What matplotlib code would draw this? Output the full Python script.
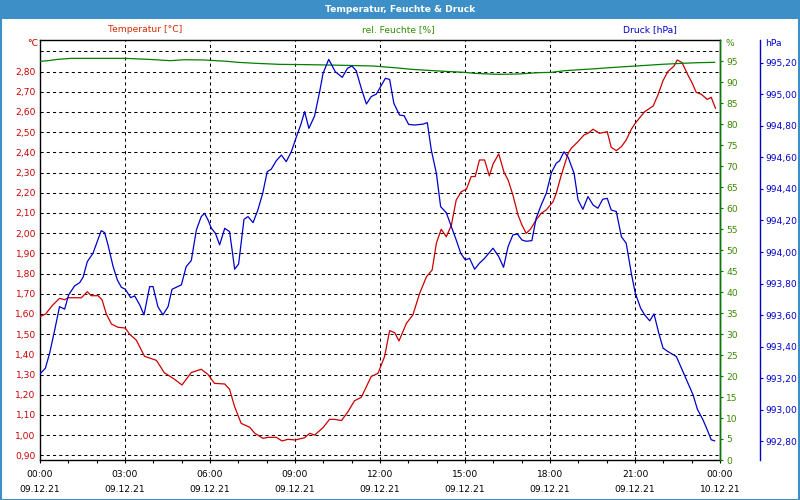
import matplotlib
matplotlib.use("Agg")
import matplotlib.pyplot as plt
from matplotlib.ticker import FixedLocator, FuncFormatter, MultipleLocator
from matplotlib.patches import Rectangle

# ---------------- data (hours since 09.12.21 00:00) ----------------
temp_hours = [0.0, 0.2, 0.45, 0.69, 0.87, 0.99, 1.46, 1.67, 1.81, 2.05, 2.19, 2.34, 2.52,
              2.75, 3.01, 3.16, 3.40, 3.69, 4.11, 4.38, 4.75, 5.01, 5.34, 5.69, 5.93, 6.16,
              6.52, 6.69, 6.87, 7.10, 7.40, 7.58, 7.87, 8.05, 8.34, 8.54, 8.75, 9.01, 9.34,
              9.52, 9.69, 9.99, 10.22, 10.40, 10.64, 10.87, 11.10, 11.34, 11.52, 11.69, 11.93,
              12.16, 12.34, 12.52, 12.67, 12.93, 13.16, 13.40, 13.64, 13.84, 13.99, 14.16,
              14.34, 14.52, 14.69, 14.87, 15.05, 15.22, 15.36, 15.51, 15.69, 15.86, 15.99,
              16.19, 16.38, 16.52, 16.69, 16.87, 17.01, 17.16, 17.31, 17.51, 17.69, 17.87,
              18.11, 18.22, 18.40, 18.64, 18.75, 18.99, 19.20, 19.34, 19.52, 19.75, 20.02,
              20.16, 20.34, 20.52, 20.69, 20.87, 21.01, 21.34, 21.64, 21.81, 21.99, 22.16,
              22.38, 22.49, 22.66, 22.87, 23.01, 23.16, 23.34, 23.55, 23.69, 23.84]
temp_vals = [1.586, 1.60, 1.644, 1.677, 1.67, 1.68, 1.68, 1.71, 1.69, 1.69, 1.67, 1.60, 1.55,
             1.534, 1.53, 1.50, 1.47, 1.39, 1.37, 1.31, 1.276, 1.248, 1.31, 1.326, 1.30, 1.256,
             1.253, 1.227, 1.14, 1.058, 1.039, 1.009, 0.984, 0.989, 0.989, 0.971, 0.979, 0.976,
             0.987, 1.009, 1.00, 1.037, 1.078, 1.078, 1.072, 1.116, 1.17, 1.187, 1.24, 1.29,
             1.306, 1.388, 1.517, 1.507, 1.466, 1.553, 1.595, 1.702, 1.784, 1.817, 1.95, 2.019,
             1.982, 2.04, 2.164, 2.205, 2.217, 2.28, 2.28, 2.362, 2.362, 2.283, 2.342, 2.392,
             2.30, 2.263, 2.189, 2.09, 2.04, 1.999, 2.019, 2.065, 2.098, 2.115, 2.156, 2.197,
             2.288, 2.395, 2.42, 2.453, 2.486, 2.494, 2.514, 2.494, 2.502, 2.425, 2.408, 2.428,
             2.461, 2.514, 2.544, 2.601, 2.629, 2.684, 2.755, 2.80, 2.827, 2.857, 2.844, 2.782,
             2.745, 2.697, 2.687, 2.662, 2.672, 2.618]

hum_hours = [0.0, 0.28, 0.64, 1.1, 2.28, 3.0, 3.8, 4.6, 5.1, 5.8, 6.6, 6.99, 7.64, 8.46,
             9.46, 10.75, 11.75, 12.64, 13.11, 13.69, 14.28, 14.99, 15.34, 15.87, 16.16,
             16.87, 17.58, 18.05, 18.52, 19.46, 20.28, 21.22, 21.93, 22.64, 23.22, 23.81]
hum_vals = [94.92, 95.08, 95.4, 95.63, 95.63, 95.63, 95.4, 95.08, 95.3, 95.24, 94.92, 94.68,
            94.44, 94.2, 94.13, 93.97, 93.81, 93.33, 93.02, 92.78, 92.54, 92.3, 92.06, 91.9,
            91.83, 91.9, 92.22, 92.3, 92.7, 93.1, 93.49, 93.89, 94.2, 94.44, 94.6, 94.68]

pres_hours = [0.02, 0.19, 0.34, 0.52, 0.69, 0.87, 1.01, 1.22, 1.40, 1.52, 1.67, 1.87, 2.05,
              2.16, 2.28, 2.40, 2.58, 2.73, 2.87, 3.01, 3.20, 3.34, 3.52, 3.67, 3.87, 3.99,
              4.16, 4.34, 4.52, 4.66, 4.99, 5.16, 5.34, 5.52, 5.69, 5.81, 5.93, 6.05, 6.19,
              6.34, 6.52, 6.69, 6.78, 6.87, 7.01, 7.11, 7.20, 7.34, 7.52, 7.69, 7.86, 8.02,
              8.16, 8.34, 8.52, 8.69, 8.87, 9.05, 9.20, 9.34, 9.49, 9.69, 9.87, 9.99, 10.19,
              10.42, 10.67, 10.85, 11.01, 11.16, 11.34, 11.52, 11.69, 11.87, 12.05, 12.19,
              12.34, 12.49, 12.69, 12.85, 13.01, 13.22, 13.52, 13.67, 13.81, 13.99, 14.14,
              14.34, 14.52, 14.69, 14.85, 15.01, 15.16, 15.34, 15.51, 15.69, 15.99, 16.19,
              16.36, 16.52, 16.69, 16.85, 17.01, 17.16, 17.36, 17.51, 17.69, 17.87, 18.05,
              18.22, 18.34, 18.49, 18.64, 18.85, 18.99, 19.16, 19.34, 19.52, 19.69, 19.86,
              20.02, 20.16, 20.34, 20.52, 20.69, 20.87, 21.01, 21.20, 21.34, 21.52, 21.67,
              21.84, 21.99, 22.16, 22.46, 22.69, 22.87, 23.05, 23.20, 23.40, 23.55, 23.69,
              23.81]
pres_vals = [993.232, 993.264, 993.359, 993.507, 993.654, 993.638, 993.728, 993.785, 993.806,
             993.84, 993.939, 993.992, 994.081, 994.135, 994.123, 994.045, 993.908, 993.823,
             993.777, 993.764, 993.711, 993.722, 993.665, 993.602, 993.781, 993.781, 993.654,
             993.602, 993.654, 993.764, 993.792, 993.908, 993.946, 994.14, 994.224, 994.245,
             994.203, 994.15, 994.119, 994.045, 994.15, 994.129, 994.013, 993.891, 993.924,
             994.076, 994.207, 994.224, 994.186, 994.266, 994.372, 994.509, 994.524, 994.578,
             994.614, 994.572, 994.635, 994.73, 994.804, 994.889, 994.783, 994.861, 995.015,
             995.131, 995.22, 995.142, 995.106, 995.163, 995.178, 995.148, 995.036, 994.937,
             994.984, 995.0, 995.057, 995.1, 995.093, 994.941, 994.867, 994.863, 994.808,
             994.804, 994.81, 994.819, 994.646, 994.498, 994.287, 994.249, 994.161, 994.076,
             993.992, 993.95, 993.96, 993.891, 993.929, 993.96, 994.024, 993.971, 993.903,
             994.034, 994.108, 994.114, 994.076, 994.068, 994.072, 994.213, 994.298, 994.372,
             994.503, 994.562, 994.578, 994.635, 994.6, 994.498, 994.33, 994.27, 994.351,
             994.298, 994.277, 994.334, 994.34, 994.266, 994.256, 994.097, 994.055, 993.865,
             993.739, 993.644, 993.602, 993.564, 993.608, 993.486, 993.391, 993.37, 993.338,
             993.243, 993.169, 993.095, 993.005, 992.937, 992.874, 992.811, 992.804]

x_tick_hours = [0, 3, 6, 9, 12, 15, 18, 21, 24]
x_tick_labels = ["00:00\n09.12.21", "03:00\n09.12.21", "06:00\n09.12.21", "09:00\n09.12.21",
                 "12:00\n09.12.21", "15:00\n09.12.21", "18:00\n09.12.21", "21:00\n09.12.21",
                 "00:00\n10.12.21"]
temp_ticks = [0.9 + 0.1 * i for i in range(21)]
hum_ticks = list(range(0, 100, 5))
pres_ticks = [992.8 + 0.2 * i for i in range(13)]

# ---------------- styling ----------------
RED = "#cc0000"
GREEN = "#008000"
BLUE = "#0000cc"
FRAME = "#3d8fc7"
FS = 6.6

fig = plt.figure(figsize=(8, 5), dpi=100)
fig.patch.set_facecolor("white")

# title bar and border
fig.patches.append(Rectangle((0, 1 - 19 / 500), 1, 19 / 500, transform=fig.transFigure,
                             facecolor=FRAME, edgecolor="none", zorder=0))
fig.patches.append(Rectangle((0.5 / 800, 0.5 / 500), 1 - 2 / 800, 1 - 2 / 500,
                             transform=fig.transFigure, facecolor="none",
                             edgecolor=FRAME, lw=1.5, zorder=0))
fig.text(0.5, 1 - 9.5 / 500, "Temperatur, Feuchte & Druck", color="white",
         fontsize=6.6, fontweight="bold", ha="center", va="center")

L, R, T, B = 40, 720, 40, 460
ax = fig.add_axes([L / 800, 1 - B / 500, (R - L) / 800, (B - T) / 500])
ax2 = ax.twinx()
ax3 = ax.twinx()

ax.set_xlim(0, 24)
ax.set_ylim(0.9 - 4.7 / 202, 0.9 + 415.3 / 202)
ax2.set_ylim(0, 100)
ax3.set_ylim(992.8 - 18.5 / 157.9, 995.2 + 22.5 / 157.9)

# grid
for yv in temp_ticks:
    ax.axhline(yv, color="black", lw=0.75, ls=(0, (3, 3)), zorder=1)
for xv in x_tick_hours[1:-1]:
    ax.axvline(xv, color="black", lw=0.75, ls=(0, (3, 3)), zorder=1)

# lines
ax2.plot(hum_hours, hum_vals, color=GREEN, lw=0.9, zorder=3)
ax.plot(temp_hours, temp_vals, color=RED, lw=0.9, zorder=3)
ax3.plot(pres_hours, pres_vals, color=BLUE, lw=0.9, zorder=3)

# x axis
ax.set_xticks(x_tick_hours)
ax.set_xticklabels(x_tick_labels, fontsize=FS, linespacing=1.75)
ax.xaxis.set_minor_locator(MultipleLocator(1))
ax.tick_params(axis="x", which="both", length=2.5, width=0.8, direction="out", pad=5,
               colors="black")

# left temperature axis
ax.set_yticks(temp_ticks)
ax.set_yticklabels([("%.2f" % v).replace(".", ",") if v < 2.85 else "" for v in temp_ticks],
                   fontsize=FS, color=RED)
ax.tick_params(axis="y", length=0, pad=3)

# humidity axis
ax2.yaxis.set_major_locator(FixedLocator(hum_ticks))
ax2.yaxis.set_major_formatter(FuncFormatter(lambda v, p: "%d" % v))
ax2.tick_params(axis="y", length=2.5, width=0.8, colors=GREEN, labelsize=FS, pad=2)
for lab in ax2.get_yticklabels():
    lab.set_color("#3a8a00")
ax2.spines["right"].set_color(GREEN)

# pressure axis
ax3.spines["right"].set_position(("axes", (760 - L) / (R - L)))
ax3.yaxis.set_major_locator(FixedLocator(pres_ticks))
ax3.yaxis.set_major_formatter(FuncFormatter(lambda v, p: ("%.2f" % v).replace(".", ",")))
ax3.tick_params(axis="y", length=2.5, width=0.8, colors=BLUE, labelsize=FS, pad=1.5)
ax3.spines["right"].set_color(BLUE)

for a in (ax, ax2, ax3):
    for s in ("left", "right", "top", "bottom"):
        a.spines[s].set_linewidth(1.0)
for a in (ax2, ax3):
    for s in ("left", "top", "bottom"):
        a.spines[s].set_visible(False)

# headers
fig.text(145 / 800, 1 - 30 / 500, "Temperatur [°C]", color="#d42a00", fontsize=FS,
         ha="center", va="center")
fig.text(398 / 800, 1 - 30 / 500, "rel. Feuchte [%]", color="#2f8f00", fontsize=FS,
         ha="center", va="center")
fig.text(650 / 800, 1 - 30 / 500, "Druck [hPa]", color=BLUE, fontsize=FS,
         ha="center", va="center")
fig.text(38 / 800, 1 - 44 / 500, "°C", color=RED, fontsize=FS, ha="right", va="center")
fig.text(725 / 800, 1 - 44 / 500, "%", color="#3a8a00", fontsize=FS, ha="left", va="center")
fig.text(765 / 800, 1 - 44 / 500, "hPa", color=BLUE, fontsize=FS, ha="left", va="center")

fig.savefig("out.png", dpi=100, facecolor="white")
